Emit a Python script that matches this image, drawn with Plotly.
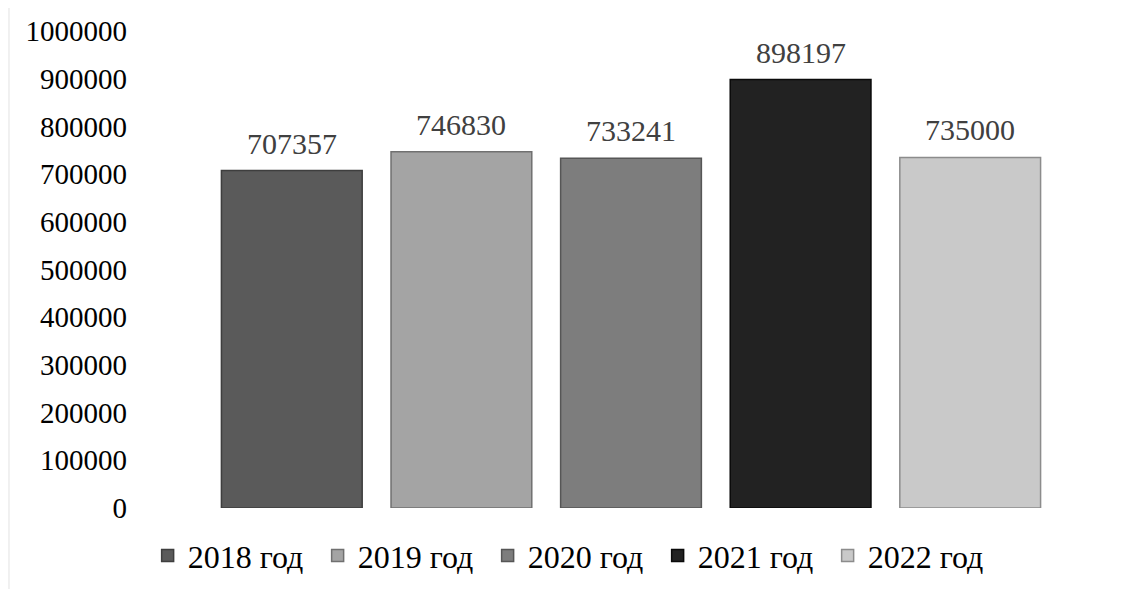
import plotly.graph_objects as go

years = ["2018 год", "2019 год", "2020 год", "2021 год", "2022 год"]
values = [707357, 746830, 733241, 898197, 735000]
colors = ["#5a5a5a", "#a4a4a4", "#7d7d7d", "#222222", "#c9c9c9"]
edge_colors = ["#3e3e3e", "#707070", "#565656", "#0a0a0a", "#8c8c8c"]
y_ticks = list(range(0, 1000001, 100000))

fig = go.Figure()
for name, v, c, e in zip(years, values, colors, edge_colors):
    fig.add_trace(go.Bar(
        x=[name], y=[v], name=name,
        marker=dict(color=c, line=dict(color=e, width=1.5)),
    ))
    fig.add_annotation(
        x=name, y=v, text=str(v), showarrow=False,
        xanchor="center", yanchor="bottom", yshift=9,
        font=dict(family="Liberation Serif", size=30, color="#404040"),
    )

fig.update_layout(
    width=1122, height=589,
    margin=dict(l=199, r=75, t=23, b=89),
    paper_bgcolor="white", plot_bgcolor="white",
    barmode="overlay", bargap=0.17,
    font=dict(family="Liberation Serif", size=29, color="black"),
    showlegend=True,
    legend=dict(orientation="h", x=-0.07, xanchor="left", y=-0.1, yanchor="middle",
                font=dict(family="Liberation Serif", size=32, color="black"),
                itemwidth=30, entrywidth=125, tracegroupgap=0),
    xaxis=dict(showticklabels=False, showline=False, showgrid=False, zeroline=False,
               automargin=False),
    yaxis=dict(range=[0, 1000000], tickvals=y_ticks, ticktext=[str(t) for t in y_ticks],
               showgrid=False, zeroline=False, showline=False, ticks="",
               ticklabelstandoff=79, automargin=False,
               tickfont=dict(family="Liberation Serif", size=29, color="black")),
    shapes=[dict(type="line", xref="paper", yref="paper", x0=-0.2335, x1=-0.2335, y0=-0.3, y1=1.2,
                 line=dict(color="#ececec", width=1.5))],
)
fig.write_html("out.html")
